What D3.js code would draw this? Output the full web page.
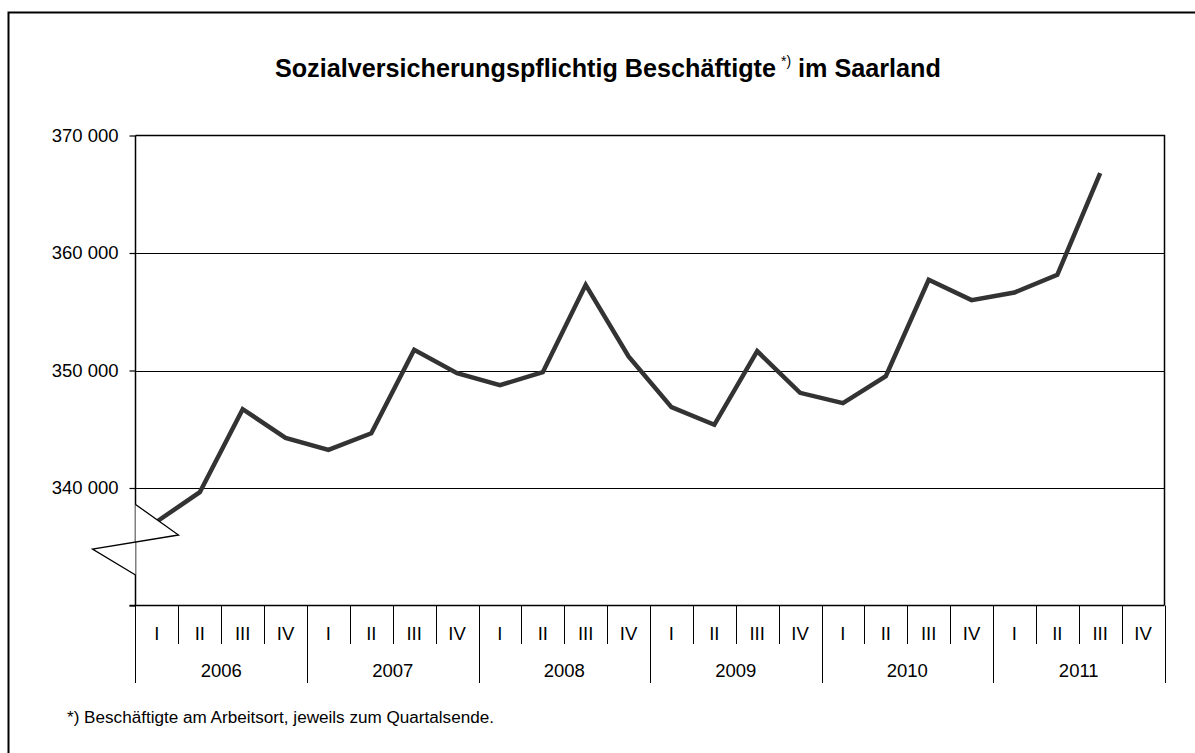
<!DOCTYPE html>
<html><head><meta charset="utf-8">
<script src="https://cdn.jsdelivr.net/npm/d3@7/dist/d3.min.js"></script>
<style>
html,body{margin:0;padding:0;background:#fff;}
svg{display:block;font-family:"Liberation Sans",Arial,sans-serif;}
</style></head>
<body>
<svg id="c" width="1195" height="753"></svg>
<script>
const years = ["2006","2007","2008","2009","2010","2011"];
const quarters = ["I","II","III","IV"];
const values = [
  337150, 339640, 346710, 344270,
  343250, 344660, 351760, 349770,
  348750, 349860, 357290, 351190,
  346880, 345380, 351650, 348100,
  347220, 349520, 357720, 355990,
  356640, 358140, 366790, null
];
const yTicks = [340000, 350000, 360000, 370000];
const titleMain = "Sozialversicherungspflichtig Beschäftigte";
const titleSup = "*)";
const titleEnd = "im Saarland";
const footnote = "*) Beschäftigte am Arbeitsort, jeweils zum Quartalsende.";

const svg = d3.select("#c");
const L = 135.5, R = 1164.5, T = 135.5, B = 605.5;
const FS = 18.5;
const cats = [];
years.forEach(y => quarters.forEach(q => cats.push(y + "-" + q)));
const data = cats.map((c, i) => ({c, v: values[i]}));

const x = d3.scaleBand().domain(cats).range([L, R]).padding(0);
const y = d3.scaleLinear().domain([330000, 370000]).range([B, T]);

// outer frame (only top/left visible)
svg.append("path").attr("d", "M8.5,800 V12.5 H1300").attr("fill","none").attr("stroke","#000").attr("stroke-width",2);

// title
svg.append("text").attr("x", 776).attr("y", 77).attr("text-anchor","end")
  .attr("font-weight","bold").attr("font-size", 25.2).attr("fill","#000").text(titleMain);
svg.append("text").attr("x", 781).attr("y", 66).attr("font-size", 14).attr("fill","#000").text(titleSup);
svg.append("text").attr("x", 798).attr("y", 77)
  .attr("font-weight","bold").attr("font-size", 25.2).attr("fill","#000").text(titleEnd);

// gridlines
svg.append("g").selectAll("line").data(yTicks.filter(d => d < 370000)).join("line")
  .attr("x1", L).attr("x2", R).attr("y1", d => Math.round(y(d)) + 0.5).attr("y2", d => Math.round(y(d)) + 0.5)
  .attr("stroke","#000").attr("stroke-width",1);

// plot frame top & right
svg.append("path").attr("d", `M${L},${T} H${R} V${B}`).attr("fill","none").attr("stroke","#000").attr("stroke-width",1.5);

// y axis
const yAxis = d3.axisLeft(y).tickValues([330000].concat(yTicks)).tickSize(6)
  .tickFormat(d => d === 330000 ? "" : d3.format(",")(d).replace(/,/g, " "));
const gy = svg.append("g").attr("transform", `translate(${L},0)`).call(yAxis);
gy.select(".domain").remove();
gy.selectAll(".tick line").attr("stroke","#000").attr("stroke-width",1.2);
gy.selectAll(".tick text").attr("font-size", FS).attr("fill","#000").attr("x", -17).attr("font-family","Liberation Sans, Arial, sans-serif");
// left axis line (broken)
svg.append("line").attr("x1", L).attr("x2", L).attr("y1", T).attr("y2", B).attr("stroke","#000").attr("stroke-width",1.5);

// data line
const line = d3.line().defined(d => d.v != null).x(d => x(d.c) + x.bandwidth()/2).y(d => y(d.v));
svg.append("path").datum(data).attr("d", line).attr("fill","none")
  .attr("stroke","#333").attr("stroke-width",4.5).attr("stroke-linejoin","miter");

// axis break glyph
const by1 = y(338600), by2 = y(336000), by3 = y(334800), by4 = y(332600);
svg.append("path")
  .attr("d", `M${L},${by1} L${L + 43},${by2} L${L - 43},${by3} L${L},${by4} Z`)
  .attr("fill","#fff").attr("stroke","none");
svg.append("path")
  .attr("d", `M${L},${by1} L${L + 43},${by2} L${L - 43},${by3} L${L},${by4}`)
  .attr("fill","none").attr("stroke","#000").attr("stroke-width",1.3);

// x axis
svg.append("line").attr("x1", L - 6).attr("x2", R).attr("y1", B).attr("y2", B).attr("stroke","#000").attr("stroke-width",1.5);
const gx = svg.append("g");
gx.selectAll("line.q").data(cats).join("line").attr("class","q")
  .attr("x1", d => Math.round(x(d) + x.bandwidth()) + 0.5).attr("x2", d => Math.round(x(d) + x.bandwidth()) + 0.5)
  .attr("y1", B).attr("y2", (d, i) => (i % 4 === 3) ? 683 : 644)
  .attr("stroke","#000").attr("stroke-width",1);
svg.append("line").attr("x1", L).attr("x2", L).attr("y1", B).attr("y2", 683).attr("stroke","#000").attr("stroke-width",1);
gx.selectAll("text.q").data(cats).join("text").attr("class","q")
  .attr("x", d => x(d) + x.bandwidth()/2).attr("y", 640)
  .attr("text-anchor","middle").attr("font-size", FS).attr("fill","#000")
  .text(d => d.split("-")[1]);
gx.selectAll("text.yr").data(years).join("text").attr("class","yr")
  .attr("x", d => (x(d + "-I") + x(d + "-IV") + x.bandwidth())/2).attr("y", 677)
  .attr("text-anchor","middle").attr("font-size", FS).attr("fill","#000")
  .text(d => d);

// footnote
svg.append("text").attr("x", 67).attr("y", 723).attr("font-size", 16).attr("fill","#000")
  .attr("textLength", 427).attr("lengthAdjust","spacingAndGlyphs").text(footnote);
</script>
</body></html>
